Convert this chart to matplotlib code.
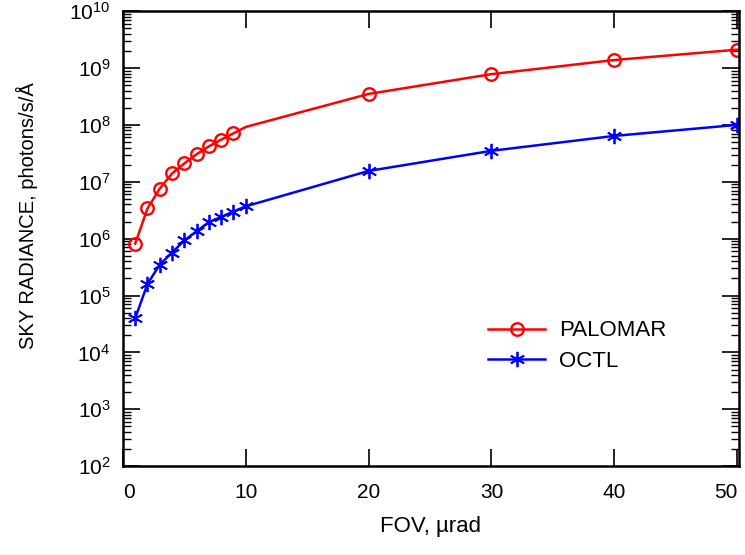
import numpy as np
import matplotlib
matplotlib.use('Agg')
import matplotlib.pyplot as plt
from matplotlib.ticker import LogLocator, FixedLocator

plt.rcParams['font.family'] = ['Liberation Sans', 'DejaVu Sans']
plt.rcParams['mathtext.fontset'] = 'custom'
plt.rcParams['mathtext.rm'] = 'Liberation Sans'
plt.rcParams['mathtext.default'] = 'regular'

# data
fov_palomar = [1, 2, 3, 4, 5, 6, 7, 8, 9, 10, 20, 30, 40, 50]
sky_palomar = [8.2e5, 3.4e6, 7.6e6, 1.4e7, 2.1e7, 3.05e7, 4.2e7, 5.5e7, 7.1e7,
               9.2e7, 3.5e8, 7.8e8, 1.38e9, 2.1e9]
fov_octl = [1, 2, 3, 4, 5, 6, 7, 8, 9, 10, 20, 30, 40, 50]
sky_octl = [4.0e4, 1.6e5, 3.5e5, 5.7e5, 9.3e5, 1.35e6, 1.95e6, 2.4e6, 3.0e6,
            3.7e6, 1.55e7, 3.5e7, 6.4e7, 1.0e8]
labels = ['PALOMAR', 'OCTL']

fig = plt.figure(figsize=(7.45, 5.55), dpi=100)
ax = fig.add_axes([0.165, 0.16, 0.827, 0.82])

# palomar has no marker at x=10
ax.plot(fov_palomar, sky_palomar, color='#ff0000', lw=1.8, marker='o', ms=9,
        mfc='none', mew=1.7, markevery=[0, 1, 2, 3, 4, 5, 6, 7, 8, 10, 11, 12, 13],
        label=labels[0])
ax.plot(fov_octl, sky_octl, color='#0000ff', lw=1.8, marker=(6, 2, 0), ms=11,
        mew=1.3, label=labels[1])

ax.set_yscale('log')
ax.set_xlim(0, 50.15)
ax.set_ylim(1e2, 1e10)
ax.xaxis.set_major_locator(FixedLocator([0, 10, 20, 30, 40, 50]))
ax.yaxis.set_major_locator(LogLocator(base=10, numticks=20))
ax.yaxis.set_minor_locator(LogLocator(base=10, subs=np.arange(2, 10), numticks=20))

ax.tick_params(which='both', direction='in', top=True, right=True)
ax.tick_params(which='major', length=12, width=1.2)
ax.tick_params(which='minor', length=6, width=1.0)
ax.tick_params(axis='x', pad=12, labelsize=15)
ax.tick_params(axis='y', pad=9, labelsize=15)
for s in ax.spines.values():
    s.set_linewidth(1.8)

# end labels sit inside the frame in the original
fig.canvas.draw()
xt = ax.get_xticklabels()
xt[0].set_ha('left')
xt[-1].set_ha('right')

ax.set_xlabel('FOV, µrad', fontsize=16, labelpad=10)
ax.set_ylabel('SKY RADIANCE, photons/s/Å', fontsize=14.5)
ax.yaxis.set_label_coords(-0.138, 0.55)

ax.legend(loc='upper left', bbox_to_anchor=(0.575, 0.345), frameon=False,
          fontsize=16, handlelength=2.55, handletextpad=0.65, labelspacing=0.42,
          borderpad=0)

plt.savefig('out.png', dpi=100)
